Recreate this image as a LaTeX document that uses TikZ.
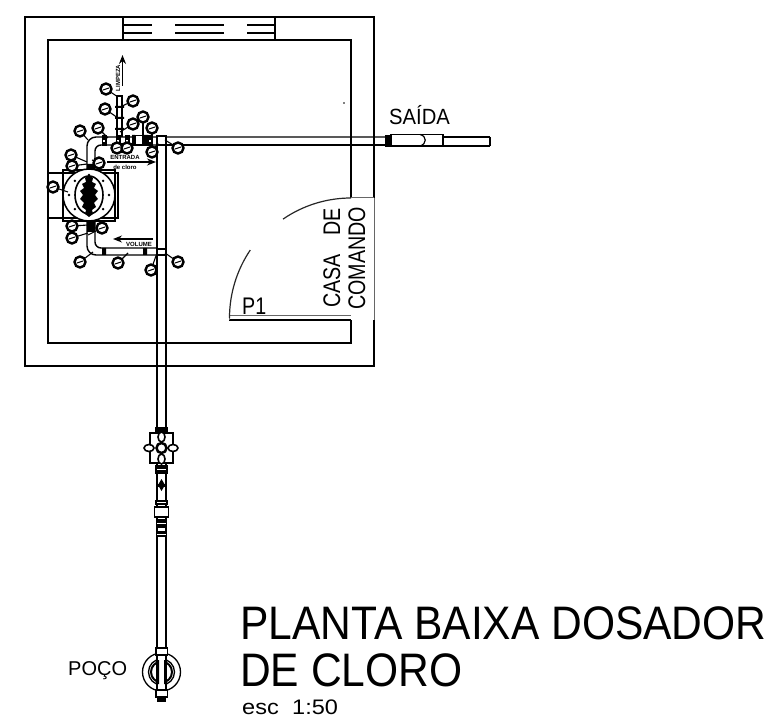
\documentclass[tikz,border=0pt]{standalone}
\usepackage{fontspec}
\setmainfont{Liberation Sans}
\newcommand{\cadtext}[3]{{\fontsize{#1}{#1}\selectfont\scalebox{#2}[1]{#3}}}
\usetikzlibrary{arrows.meta}
\tikzset{
  wall/.style={line width=1.5pt,black},
  thinwall/.style={line width=1pt,black!60},
  pipe/.style={line width=1.4pt,black},
  balloon/.style={circle,draw=black,line width=2.4pt,minimum size=11pt,inner sep=0pt,fill=white},
  leader/.style={line width=1.1pt,black},
  whitebox/.style={line width=1.4pt,black,fill=white},
  lbl/.style={inner sep=0pt,anchor=base west},
  tiny/.style={inner sep=0pt,font=\fontsize{6}{6}\selectfont\bfseries},
  tip/.style={-{Stealth[length=9pt,width=7pt]},line width=1.4pt}
}
\begin{document}
\begin{tikzpicture}[x=1pt,y=-1pt]
\useasboundingbox (0,0) rectangle (769,719);
% building walls
\draw[wall] (374,198) -- (374,17) -- (25,17) -- (25,366) -- (374,366) -- (374,320);
\draw[thinwall] (374,198) -- (374,320);
\draw[wall] (351,198) -- (351,40) -- (48,40) -- (48,343) -- (351,343) -- (351,320);
% window
\draw[wall] (123,17) -- (123,40) (275,17) -- (275,40);
\foreach \yy in {25,33} {
  \draw[wall] (123,\yy) -- (152,\yy) (175,\yy) -- (224,\yy) (247,\yy) -- (275,\yy);
}
% door
\draw[wall] (229,320) -- (351,320);
\draw[thinwall] (229,316) -- (351,316) (229,316) -- (229,320);
\draw[line width=1.2pt,black!85] (351,198) arc[start angle=270,end angle=235.5,radius=120];
\draw[line width=1.2pt,black!85] (229.5,318) arc[start angle=180,end angle=214,radius=121.5];
\draw[thinwall] (351,198) -- (374,198);
\node[lbl] (p1) at (242,315) {\cadtext{24}{.82}{P1}};
\node[lbl,rotate=90] (casa) at (340,308) {\cadtext{24}{.82}{CASA}};
\node[lbl,rotate=90] (de) at (340,236) {\cadtext{24}{.82}{DE}};
\node[lbl,rotate=90] (comando) at (365,310) {\cadtext{24}{.82}{COMANDO}};
% point on wall
\fill (344,103) circle (.8);
% main pipes
\draw[pipe,rounded corners=9pt] (87,172) -- (87,137) -- (385,137);
\draw[pipe,rounded corners=6pt] (95,172) -- (95,145) -- (157,145);
\draw[pipe] (165,145) -- (385,145);
\draw[pipe] (157,145) -- (157,650) (166,145) -- (166,650);
\draw[pipe,rounded corners=9pt] (87,221) -- (87,255) -- (166,255);
\draw[pipe,rounded corners=6pt] (95,221) -- (95,248) -- (157,248);
\draw[pipe] (117,137) -- (117,96) -- (122,96) -- (122,137);
\draw[tip] (122.5,86) -- (122.5,55);
% fittings on horizontal pipe
\foreach \xx in {104,118,127,150} {
  \fill (\xx-2.5,135.5) rectangle (\xx+2.5,146.5);
  \fill[white] (\xx-.8,140) rectangle (\xx+.8,142);
}
\draw[whitebox] (135,135.5) rectangle (143,145);
\fill (143,135) rectangle (148,146) (132,135) rectangle (135,146);
\fill (115,119) rectangle (124,117) (115,108) rectangle (124,106) (115,130) rectangle (124,128);
\fill (87,164) rectangle (95,172) (87,221) rectangle (95,232);
\fill (102,248) rectangle (106,255) (143,248) rectangle (147,255);
\draw[whitebox] (157,136) rectangle (166,145);
\draw[whitebox] (157,249) rectangle (166,255);
% pump
\draw[wall] (48,173) rectangle (118,218);
\draw[wall] (63,170) rectangle (115,221);
\draw[wall,fill=white] (89,195) circle (26);
\foreach \a in {0,45,...,315} { \fill (89,195) ++(\a:20) circle (1.3); }
\draw[line width=1.6pt] (89,195) ellipse (14 and 19);
\fill (89,175) -- (93,178) -- (92,182) -- (96,184) -- (94,188) -- (98,191) -- (95,195) -- (98,199) -- (94,203) -- (96,207) -- (92,210) -- (93,214) -- (89,217)
  -- (85,214) -- (86,210) -- (82,207) -- (84,203) -- (80,199) -- (83,195) -- (80,191) -- (84,188) -- (82,184) -- (86,182) -- (85,178) -- cycle;
% flow arrows and small labels
\draw[tip] (107,162) -- (156,162);
\node[tiny] (lbl1) at (125,157.5) {ENTRADA};
\node[tiny] (lbl2) at (125,167) {de cloro};
\draw[tip] (153,239) -- (113,239);
\node[tiny] (lbl3) at (139,244) {VOLUME};
\node[tiny,rotate=90] (lbl4) at (118,78) {LIMPEZA};
% balloons with leaders
\foreach \bx/\by/\tx/\ty in {
 106/89/118/97, 133/101/120/107, 105/109/118/118, 133/124/120/132,
 143/117/143/135, 152/128/152/135, 80/131/88/140, 98/128/108/138,
 117/148/117/144, 127/148/127/144, 152/152/158/143, 178/148/165/140,
 71/155/87/162, 72/166/87/164, 99/163/92/160,
 53/187/68/192, 72/226/88/225, 102/228/88/235, 72/238/88/233,
 80/262/93/252, 118/263/128/253, 151/270/157/253, 178/262/165/253}{
  \draw[leader] (\bx,\by) -- (\tx,\ty);
  \node[balloon] at (\bx,\by) {};
  \draw[line width=1pt] (\bx-3,\by+1) -- (\bx+3,\by-1);
}
% outlet
\fill (385,135) rectangle (391,147);
\draw[whitebox] (391,134.5) rectangle (443,146);
\draw[line width=1.2pt] (420,134.5) .. controls (427,136) and (427,144) .. (420,146);
\draw[pipe] (443,137) -- (490,137) (443,146) -- (490,146);
\draw[line width=2pt] (490,137) -- (490,146);
\node[lbl] (saida) at (389,125) {\cadtext{22}{.92}{SAÍDA}};
% line fittings below building
\fill (155,427) rectangle (168,433);
\draw[wall,fill=white] (150,433) rectangle (173,463);
\draw[line width=1.6pt,fill=white] (149,448) ellipse (5 and 3.5);
\draw[line width=1.6pt,fill=white] (173,448) ellipse (5 and 3.5);
\draw[line width=1.6pt,fill=white] (161.5,437) ellipse (3.5 and 5);
\draw[line width=1.6pt,fill=white] (161.5,459) ellipse (3.5 and 5);
\draw[line width=2.5pt,fill=white] (161.5,448) circle (5);
\fill (155,465) rectangle (168,474);
\fill (161.5,479) -- (165,485) -- (161.5,491) -- (158,485) -- cycle;
\fill (158,483.5) rectangle (165,486.5);
\fill (155,500) rectangle (168,505);
\draw[wall,fill=white] (154.5,507) rectangle (168.5,517);
\fill (156,519) rectangle (167,528);
\fill (156,531) rectangle (167,537);
\foreach \yy in {469.5,502.5,523,534} { \fill[white] (157,\yy-.5) rectangle (166,\yy+.5); }
% well
\draw[line width=1.3pt] (161.5,672) ellipse (19 and 19);
\draw[line width=1.3pt] (161.5,672) circle (13);
\draw[line width=2pt] (161.5,672) circle (10.5);
\fill[white] (157,654) rectangle (166,690);
\draw[pipe] (157,654) -- (157,690) (166,654) -- (166,690);
\fill (157,660) rectangle (159,684) (164,660) rectangle (166,684);
\draw[whitebox] (156,648) rectangle (167.5,655);
\draw[whitebox] (156,690) rectangle (167.5,697);
\fill (157,697) rectangle (166,702);
\node[lbl] (poco) at (68,675) {\cadtext{20}{1}{POÇO}};
% title
\node[lbl] (t1) at (240,639) {\cadtext{47}{.905}{PLANTA BAIXA DOSADOR}};
\node[lbl] (t2) at (240,686) {\cadtext{47}{.905}{DE CLORO}};
\node[lbl] (t3) at (242,714) {\cadtext{21}{1.12}{esc\hspace{12pt}1:50}};
\end{tikzpicture}
\end{document}
